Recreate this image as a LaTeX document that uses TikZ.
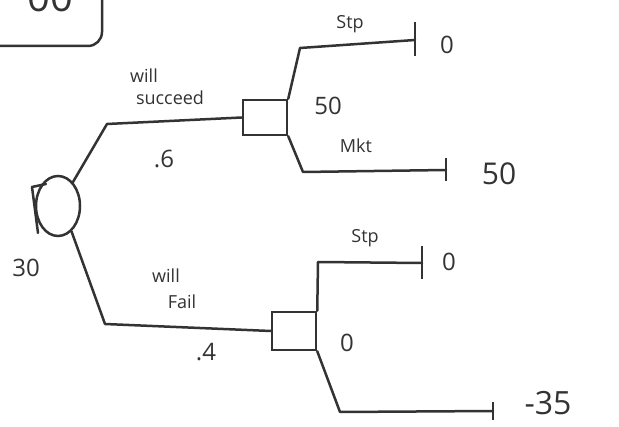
\documentclass[tikz,border=0pt]{standalone}
\usepackage{fontspec}
\setmainfont{Open Sans}
\usetikzlibrary{shapes.geometric}
\definecolor{pencil}{HTML}{333333}
\tikzset{
  wire/.style={draw=pencil,line width=2.5pt,line join=round,line cap=round},
  chance/.style={ellipse,draw=pencil,line width=2.5pt,minimum width=44pt,minimum height=60pt,inner sep=0pt},
  decision/.style={rectangle,draw=pencil,line width=2.5pt,minimum width=44pt,inner sep=0pt},
  lbl/.style={text=pencil,inner sep=0pt,font=\fontsize{24}{24}\selectfont},
  small/.style={text=pencil,inner sep=0pt,font=\fontsize{18}{18}\selectfont},
  tick/.style={draw=pencil,line width=2.6pt}
}
\begin{document}
\begin{tikzpicture}[x=1pt,y=-1pt]
\useasboundingbox (0,0) rectangle (619,427);
\clip (0,0) rectangle (619,427);
\fill[white] (0,0) rectangle (619,427);
% partial box top-left
\draw[wire,rounded corners=14pt] (-20,-30) -- (102,-30) -- (102,46) -- (-20,46);
\node[text=pencil,font=\fontsize{40}{40}\selectfont,anchor=base] (top) at (50,12) {00};
% chance node
\node[chance] (c) at (58,206) {};
\draw[wire] (32,187) -- (46,184);
\draw[wire] (32,187) -- (38,233);
\node[lbl] (v30) at (26,268) {30};
% decision boxes
\node[decision,minimum height=35pt] (b1) at (265,117.5) {};
\node[decision,minimum height=38pt] (b2) at (294,331) {};
% terminal points
\coordinate (t1) at (415,40);
\coordinate (t2) at (446,170);
\coordinate (t3) at (422,263);
\coordinate (t4) at (493,411);
\coordinate (k1) at (107,124);
\coordinate (k2) at (105,324);
\coordinate (k3) at (300,48);
\coordinate (k4) at (303,172);
\coordinate (k5) at (318,262);
\coordinate (k6) at (340,412);
% connectors
\draw[wire] (c.58) -- (k1) -- (b1.west);
\draw[wire] (c.-62) -- (k2) -- (b2.west);
\draw[wire] (b1.north east) -- (k3) -- (t1);
\draw[wire] (b1.south east) -- (k4) -- (t2);
\draw[wire] (b2.north east) -- (k5) -- (t3);
\draw[wire] (b2.south east) -- (k6) -- (t4);
% ticks
\draw[tick] ([yshift=-16pt]t1) -- ([yshift=18pt]t1);
\draw[tick] ([yshift=-11pt]t2) -- ([yshift=12pt]t2);
\draw[tick] ([yshift=-16pt]t3) -- ([yshift=17pt]t3);
\draw[tick] ([yshift=-9pt]t4) -- ([yshift=9pt]t4);
% payoffs
\node[lbl] (p1) at (447,45) {0};
\node[lbl,font=\fontsize{30}{30}\selectfont] (p2) at (499,174) {50};
\node[lbl] (p3) at (449,262) {0};
\node[lbl,font=\fontsize{32}{32}\selectfont] (p4) at (548,403) {-35};
% values
\node[lbl] (v1) at (328,106) {50};
\node[lbl] (v2) at (347,343) {0};
% branch labels
\node[small] (l1) at (144,76) {will};
\node[small] (l2) at (170,98) {succeed};
\node[lbl] (l3) at (164,159) {.6};
\node[small] (l4) at (166,276) {will};
\node[small] (l5) at (182,302) {Fail};
\node[lbl] (l6) at (206,352) {.4};
\node[small] (l7) at (350,24) {Stp};
\node[small] (l8) at (356,146) {Mkt};
\node[small] (l9) at (365,238) {Stp};
\end{tikzpicture}
\end{document}
